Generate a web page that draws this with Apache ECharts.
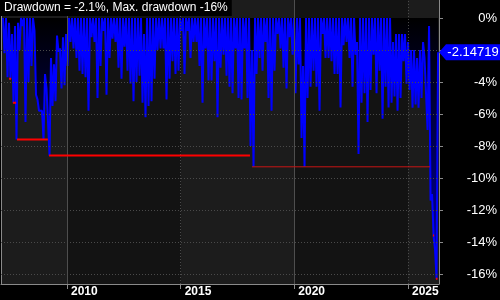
<!DOCTYPE html>
<html><head><meta charset="utf-8">
<script src="https://cdn.jsdelivr.net/npm/echarts@6/dist/echarts.min.js"></script>
<style>html,body{margin:0;padding:0;background:#000}#c{width:500px;height:300px}</style>
</head><body><div id="c"></div>
<script>
const titleText = 'Drawdown = -2.1%, Max. drawdown -16%';
const currentValue = -2.14719;
const yearTicks = [2010, 2015, 2020, 2025];
const pctTicks = [0, -2, -4, -6, -8, -10, -12, -14, -16];
const bandsDark = [[2010, 2015], [2020, 2025]];
const ddStartYear = 2007.184;
const ddStepYears = 0.066;
const ddValues = [
  0,-2.2, 0,-3.7, -0.3,-3.8, -1.0,-5.3, -0.5,-7.6, -0.3,-2.0, 0,-0.5, 0,-6.5, 0,-4.0, 0,-3.0,
  0,-0.8, -4.8,-5.1, -5.8,-5.8, -5.8,-7.6, -3.5,-4.4, -6.5,-8.6, -2.5,-5.5, -2.9,-5.2, -1.1,-2.1, -1.9,-4.4,
  -1.2,-4.2, -1.0,-3.0, 0,-1.5, 0,-1.9, 0,-2.5, 0,-3.3, 0,-3.5, 0,-3.7, 0,-5.8, 0,-1.2,
  0,-1.5, 0,-5.0, 0,-3.0, 0,-0.8, 0,-4.8, 0,-2.5, 0,-1.3, 0,-1.5, 0,-3.1, 0,-3.8,
  0,-1.8, 0,-3.3, 0,-4.1, 0,-5.2, 0,-4.0, 0,-3.6, 0,-5.3, -1.0,-6.2, 0,-5.5, 0,-5.2,
  0,-3.8, 0,-2.0, 0,-1.9, 0,-1.9, 0,-5.1, 0,-3.8, 0,-2.7, 0,-3.5, 0,-3.3, 0,-0.8,
  0,-3.5, 0,-0.8, 0,-2.5, 0,-1.5, 0,-1.5, 0,-3.0, 0,-5.3, 0,-1.9, 0,-3.9, 0,-3.9,
  0,-2.7, 0,-6.2, 0,-3.1, 0,-2.3, 0,-3.6, 0,-4.3, 0,-4.7, 0,-1.9, 0,-5.0, 0,-5.1,
  0,-1.9, 0,-5.0, 0,-8.0, -2.0,-9.3, 0,-3.5, 0,-2.5, 0,-3.3, 0,-1.5, 0,-5.0, 0,-5.8,
  0,-3.3, 0,-1.0, 0,-1.9, 0,-3.1, 0,-4.4, 0,-1.2, 0,-2.3, 0,-4.7, 0,-2.9, 0,-7.5,
  -3.0,-9.3, 0,-5.0, 0,-4.3, 0,-3.3, 0,-4.3, 0,-5.8, 0,-1.0, 0,-2.5, 0,-2.5, 0,-2.7,
  0,-3.5, 0,-3.5, 0,-5.6, 0,-1.7, 0,-1.5, 0,-2.5, 0,-4.3, 0,-2.3, -1.5,-8.5, 0,-5.3,
  0,-4.7, 0,-6.5, 0,-4.5, 0,-2.3, 0,-4.7, 0,-3.3, 0,-6.3, 0,-4.3, 0,-5.6, 0,-5.3,
  -1.5,-4.9, -1.0,-5.8, -1.0,-5.0, -1.0,-2.7, -1.0,-4.1, -1.5,-4.5, -2.0,-5.6, -2.0,-5.4, -2.5,-5.6, -2.0,-5.0,
  -1.5,-2.5, -2.5,-7.0, -0.5,-11.4, -11.0,-13.6, -14.5,-16.3,
  -2.14719
];
const maxDDStart = [2007.45, 2007.62, 2007.80, 2009.21, 2026.10, 2026.23];
const maxDDEnd   = [2007.54, 2007.76, 2009.16, 2018.05, 2026.15, 2026.30];
const maxDDLevel = [-3.8, -5.3, -7.6, -8.6, -13.6, -16.3];
const holdStart = [2018.14];
const holdEnd = [2025.97];
const holdLevel = [-9.3];

const font = "'Liberation Sans', Arial, sans-serif";
const xMin = 2007.096, xMax = 2026.366;
const yMin = -16.625, yMax = 1.125;

const ddData = ddValues.map((v, i) => [+(ddStartYear + i * ddStepYears).toFixed(4), v]);
function segs(st, en, lv) {
  const out = [];
  lv.forEach((l, i) => { out.push([st[i], l], [en[i], l], [en[i], null]); });
  return out;
}
const gridLineColor = '#4a4a4a';
const hLines = pctTicks.filter(v => v !== 0).map(v => ({ yAxis: v, lineStyle: { color: gridLineColor, type: [1, 2], width: 1 } }));
const vLines = yearTicks.map(y => ({ xAxis: y, lineStyle: { color: y % 10 === 0 ? '#4e4e4e' : gridLineColor, type: y % 10 === 0 ? 'solid' : [1, 2], width: 1 } }));

const chart = echarts.init(document.getElementById('c'), null, { renderer: 'canvas' });
chart.setOption({
  backgroundColor: '#000',
  animation: false,
  title: {
    text: titleText, left: 0, top: 0, padding: [2, 4, 2, 4], backgroundColor: '#000',
    textStyle: { color: '#fff', fontSize: 12, fontWeight: 'normal', fontFamily: font }
  },
  grid: { left: 1, right: 61, top: 0, bottom: 16, show: true, backgroundColor: '#1c1c1c', borderWidth: 0 },
  xAxis: {
    type: 'value', min: xMin, max: xMax,
    axisLine: { show: true, onZero: false, lineStyle: { color: '#8a8a8a' } },
    axisTick: { show: true, customValues: yearTicks, length: 5, lineStyle: { color: '#8a8a8a' } },
    axisLabel: { customValues: yearTicks, formatter: v => String(v), color: '#fff', fontWeight: 'bold', fontSize: 12, fontFamily: font, align: 'left', padding: [0, 0, 0, 4], margin: 2 },
    splitLine: { show: false }
  },
  yAxis: [
    {
      type: 'value', position: 'right', min: yMin, max: yMax,
      axisLine: { show: true, onZero: false, lineStyle: { color: '#8a8a8a' } },
      axisTick: { show: true, customValues: pctTicks, length: 4, lineStyle: { color: '#8a8a8a' } },
      axisLabel: { customValues: pctTicks, formatter: v => v + '%', color: '#fff', fontSize: 13, fontFamily: font, align: 'right', margin: 58 },
      splitLine: { show: false }
    },
    {
      type: 'value', position: 'left', min: yMin, max: yMax,
      axisLine: { show: true, onZero: false, lineStyle: { color: '#8a8a8a' } },
      axisTick: { show: false }, axisLabel: { show: false }, splitLine: { show: false }
    }
  ],
  series: [
    {
      type: 'line', data: [], z: 1, silent: true,
      markArea: { silent: true, itemStyle: { color: '#131313' }, data: bandsDark.map(b => [{ xAxis: b[0] }, { xAxis: b[1] }]) }
    },
    {
      type: 'line', data: ddData, z: 2, silent: true, symbol: 'none',
      lineStyle: { width: 0, opacity: 0 },
      areaStyle: { opacity: 1, color: new echarts.graphic.LinearGradient(0, 0, 0, 1, [{ offset: 0, color: '#000000' }, { offset: 1, color: '#0000aa' }]) }
    },
    {
      type: 'line', data: [], z: 3, silent: true,
      markLine: { silent: true, symbol: 'none', label: { show: false }, data: hLines.concat(vLines) }
    },
    {
      type: 'line', data: ddData, z: 4, silent: true, symbol: 'none',
      lineStyle: { color: '#0000ff', width: 2 },
      markPoint: {
        silent: true, symbol: 'path://M0,8L7,0L62,0L62,16L7,16Z', symbolSize: [62, 16], symbolKeepAspect: false,
        symbolOffset: [31, 0], itemStyle: { color: '#0000ff' },
        label: { show: true, position: 'inside', formatter: String(currentValue), color: '#fff', fontSize: 13, fontFamily: font, offset: [3, 0] },
        data: [{ coord: [xMax, currentValue] }]
      }
    },
    {
      type: 'line', data: segs(maxDDStart, maxDDEnd, maxDDLevel), z: 5, silent: true, symbol: 'none',
      connectNulls: false, lineStyle: { color: '#ff0000', width: 2 }
    },
    {
      type: 'line', data: segs(holdStart, holdEnd, holdLevel), z: 5, silent: true, symbol: 'none',
      connectNulls: false, lineStyle: { color: '#c81414', width: 1 }
    }
  ]
});
</script>
</body></html>
